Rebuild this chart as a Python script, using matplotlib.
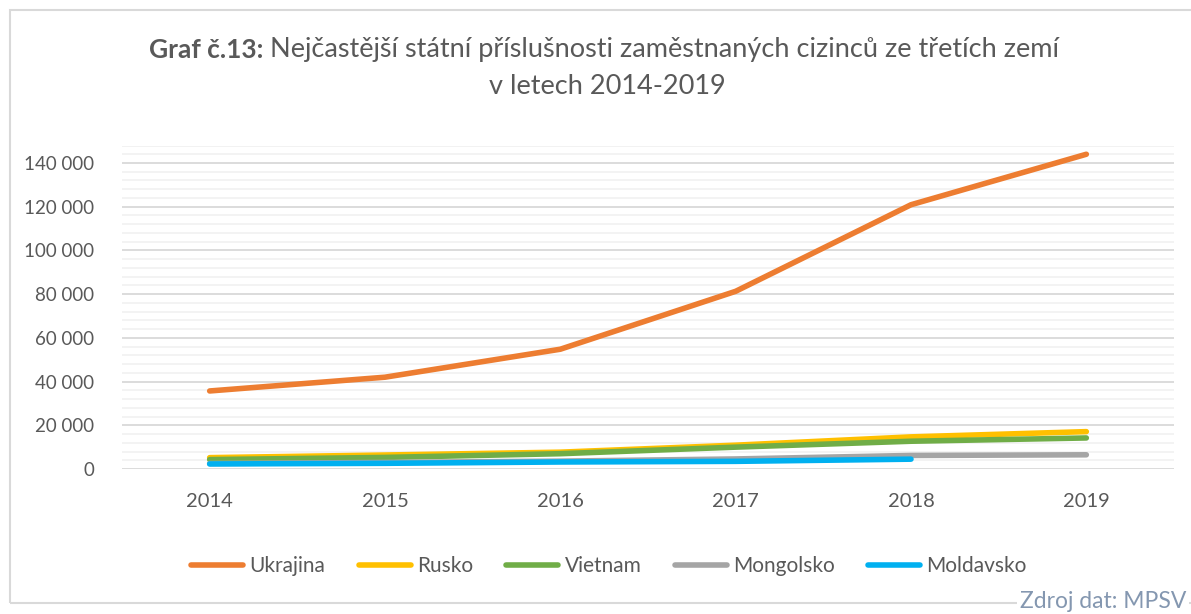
import numpy as np
import matplotlib.pyplot as plt
from matplotlib.patches import Rectangle
from matplotlib.ticker import MultipleLocator, FuncFormatter

plt.rcParams['font.family'] = ['Lato', 'DejaVu Sans']

years = ["2014", "2015", "2016", "2017", "2018", "2019"]
ukrajina = [35700, 42000, 54800, 81300, 120900, 144000]
rusko = [5200, 6400, 7700, 10900, 14700, 17100]
vietnam = [4300, 5300, 7000, 10000, 12700, 14200]
mongolsko = [2500, 3000, 3600, 4600, 6200, 6500]
moldavsko = [2300, 2600, 3200, 3500, 4500, np.nan]

series = [
    ("Ukrajina", ukrajina, "#ED7D31"),
    ("Rusko", rusko, "#FFC000"),
    ("Vietnam", vietnam, "#70AD47"),
    ("Mongolsko", mongolsko, "#A5A5A5"),
    ("Moldavsko", moldavsko, "#00B0F0"),
]

W, H = 1191, 614
fig = plt.figure(figsize=(W / 100, H / 100), dpi=100)

# chart frame
fig.patches.append(Rectangle((10 / W, 1 - 603 / H), 1200 / W, 593 / H,
                             transform=fig.transFigure, fill=False,
                             edgecolor="#D9D9D9", linewidth=1.5))

ax = fig.add_axes([122 / W, 1 - 469 / H, (1174 - 122) / W, (469 - 145.5) / H])
x = np.arange(len(years))
for i, (name, vals, col) in enumerate(series):
    ax.plot(x, vals, color=col, linewidth=4, solid_capstyle="round",
            label=name, zorder=3 + i)

ax.set_xlim(-0.5, 5.5)
ax.set_ylim(0, 148000)
ax.yaxis.set_major_locator(MultipleLocator(20000))
ax.yaxis.set_minor_locator(MultipleLocator(4000))
ax.yaxis.set_major_formatter(FuncFormatter(lambda v, p: f"{int(v):,}".replace(",", " ")))
ax.set_xticks(x)
ax.set_xticklabels(years)
ax.grid(True, axis="y", which="major", color="#D9D9D9", linewidth=1.3)
ax.grid(True, axis="y", which="minor", color="#F2F2F2", linewidth=1.3)
ax.set_axisbelow(True)
for s in ax.spines.values():
    s.set_visible(False)
ax.axhline(148000, color="#F2F2F2", linewidth=1.3, zorder=0)
ax.tick_params(axis="both", which="both", length=0, labelcolor="#595959")
ax.tick_params(axis="y", labelsize=13.5, pad=20)
ax.tick_params(axis="x", labelsize=14.5, pad=17)

# title
fig.text(263 / W, 1 - 50 / H, "Graf č.13:", ha="right", va="center",
         fontsize=19, fontweight="bold", color="#595959")
fig.text(270 / W, 1 - 50 / H, "Nejčastější státní příslušnosti zaměstnaných cizinců ze třetích zemí",
         ha="left", va="center", fontsize=19.5, color="#595959")
fig.text(607 / W, 1 - 87 / H, "v letech 2014-2019", ha="center", va="center",
         fontsize=19.5, color="#595959")

handles, labels = ax.get_legend_handles_labels()
fig.legend(handles, labels,
           loc="center", bbox_to_anchor=(609 / W, 1 - 566 / H), ncol=5,
           frameon=False, fontsize=15, labelcolor="#595959",
           handlelength=2.5, columnspacing=1.6, handletextpad=0.3)

fig.text(1186 / W, 1 - 601 / H, "Zdroj dat: MPSV", ha="right", va="center",
         fontsize=16.5, color="#8497B0",
         bbox=dict(facecolor="white", edgecolor="none", pad=2))

fig.savefig("out.png", dpi=100)
